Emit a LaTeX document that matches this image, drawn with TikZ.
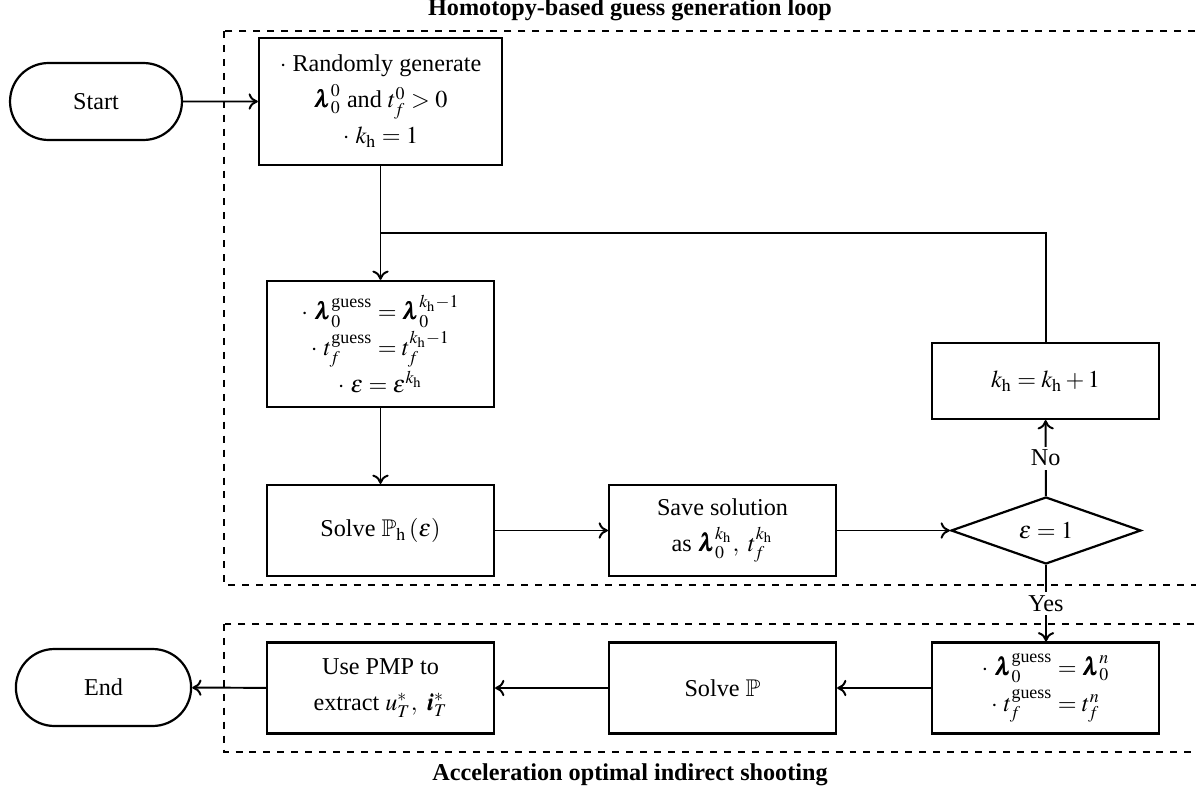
\documentclass[tikz,border=0pt]{standalone}
\usepackage{amsmath,amssymb}
\usepackage{mathptmx}
\usepackage[no-math]{fontspec}
\setmainfont{Liberation Serif}
\usepackage{bm}
\usetikzlibrary{shapes.geometric,shapes.misc,arrows.meta}
\begin{document}
\begin{tikzpicture}[x=0.43pt,y=-0.43pt,
  font=\fontsize{10.4}{15.5}\selectfont,
  box/.style={draw, line width=0.95pt, align=center, inner sep=1pt, minimum width=97.6pt},
  term/.style={draw, rounded rectangle, line width=0.95pt, minimum width=80.6pt, minimum height=33.1pt},
  conn/.style={-{To[length=4pt,width=7pt]}, line width=0.85pt},
  region/.style={dashed, line width=0.9pt},
  lab/.style={fill=white, inner sep=1.5pt},
  title/.style={font=\fontsize{10.4}{12}\selectfont\bfseries}]
\useasboundingbox (0,0) rectangle (1196,793);
\clip (0,0) rectangle (1196,793);
% regions
\draw[region] (224,31) rectangle (1230,585);
\draw[region] (224,624) rectangle (1230,752);
\node[title] (t1) at (630,10) {Homotopy-based guess generation loop};
\node[title] (t2) at (630,775) {Acceleration optimal indirect shooting};
% nodes
\node[term] (start) at (96,101.5) {Start};
\node[box, minimum width=104.5pt, minimum height=54.6pt] (init) at (380.5,101.5)
  {$\cdot$ Randomly generate\\ $\bm{\lambda}_0^0$ and $t_f^0>0$\\ $\cdot\ k_\mathrm{h}=1$};
\node[box, minimum height=54.2pt] (guess) at (380.5,344)
  {$\cdot\ \bm{\lambda}_0^{\text{guess}}=\bm{\lambda}_0^{k_\mathrm{h}-1}$\\
   $\cdot\ t_f^{\text{guess}}=t_f^{k_\mathrm{h}-1}$\\
   $\cdot\ \varepsilon=\varepsilon^{k_\mathrm{h}}$};
\node[box, minimum height=39.1pt] (solveh) at (380.5,530.5) {Solve $\mathbb{P}_\mathrm{h}\left(\varepsilon\right)$};
\node[box, minimum height=39.1pt] (save) at (722.5,530.5) {Save solution\\ as $\bm{\lambda}_0^{k_\mathrm{h}},\ t_f^{k_\mathrm{h}}$};
\node[draw, diamond, aspect=2.8, line width=0.95pt, minimum width=81.7pt, minimum height=28.8pt, inner sep=0pt] (check) at (1046,530.5) {$\varepsilon=1$};
\node[box, minimum height=32.7pt] (inc) at (1045.5,381) {$k_\mathrm{h}=k_\mathrm{h}+1$};
\node[box, minimum height=39.1pt] (final) at (1045.5,688)
  {$\cdot\ \bm{\lambda}_0^{\text{guess}}=\bm{\lambda}_0^{n}$\\
   $\cdot\ t_f^{\text{guess}}=t_f^{n}$};
\node[box, minimum height=39.1pt] (solve) at (722.5,688) {Solve $\mathbb{P}$};
\node[box, minimum height=39.1pt] (pmp) at (380.5,688) {Use PMP to\\ extract $u_T^*,\ \bm{i}_T^*$};
\node[term, minimum width=82pt] (end) at (103.5,687.5) {End};
\coordinate (join) at (380.5,233);
% connectors
\draw[conn] (start) -- (init);
\draw[conn] (init) -- (guess);
\draw[line width=0.85pt] (inc.north) |- (join);
\draw[conn] (guess) -- (solveh);
\draw[conn] (solveh) -- (save);
\draw[conn] (save) -- (check);
\draw[conn] (check) -- node[lab] {No} (inc);
\draw[conn] (check.south) -- node[lab] {Yes} (final.north -| check.south);
\draw[conn] (final) -- (solve);
\draw[conn] (solve) -- (pmp);
\draw[conn] (pmp) -- (end);
\end{tikzpicture}
\end{document}
